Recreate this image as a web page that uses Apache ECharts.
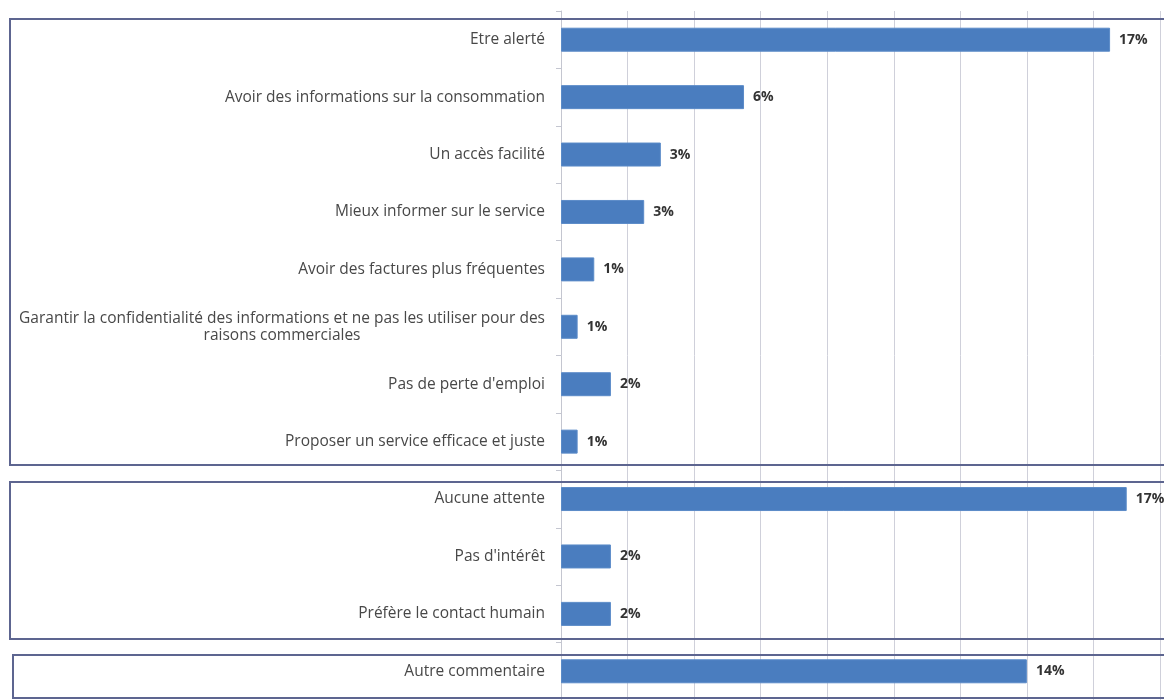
<!DOCTYPE html>
<html>
<head>
<meta charset="utf-8">
<script src="https://cdn.jsdelivr.net/npm/echarts@6/dist/echarts.min.js"></script>
<style>
  html, body { margin: 0; padding: 0; background: #fff; }
  #chart { width: 1164px; height: 700px; }
</style>
</head>
<body>
<div id="chart"></div>
<script>
// catégories (de haut en bas)
const categories = [
  'Etre alerté',
  'Avoir des informations sur la consommation',
  'Un accès facilité',
  'Mieux informer sur le service',
  'Avoir des factures plus fréquentes',
  'Garantir la confidentialité des informations et ne pas les utiliser pour des\nraisons commerciales',
  'Pas de perte d\'emploi',
  'Proposer un service efficace et juste',
  'Aucune attente',
  'Pas d\'intérêt',
  'Préfère le contact humain',
  'Autre commentaire'
];
// pourcentages
const values = [16.5, 5.5, 3.0, 2.5, 1.0, 0.5, 1.5, 0.5, 17.0, 1.5, 1.5, 14.0];
// échelle de l'axe des valeurs
const axisMax = 18;
const axisStep = 2;

const chart = echarts.init(document.getElementById('chart'));

// cadres autour des groupes
function box(x, y, w, h) {
  return {
    type: 'rect',
    silent: true,
    z: 100,
    shape: { x: x, y: y, width: w, height: h },
    style: { fill: 'none', stroke: '#5d6590', lineWidth: 2 }
  };
}

const option = {
  animation: false,
  backgroundColor: '#ffffff',
  grid: {
    left: 561,
    right: 4,
    top: 11,
    bottom: -7,
    containLabel: false
  },
  xAxis: {
    type: 'value',
    min: 0,
    max: axisMax,
    interval: axisStep,
    axisLabel: { show: false },
    axisLine: { show: false },
    axisTick: { show: false },
    splitLine: { show: true, lineStyle: { color: '#cfd0da', width: 1 } }
  },
  yAxis: {
    type: 'category',
    inverse: true,
    data: categories,
    axisLine: { show: true, lineStyle: { color: '#c4c6d0', width: 1 } },
    axisTick: { show: true, length: 5, lineStyle: { color: '#c4c6d0' } },
    axisLabel: {
      margin: 16,
      fontFamily: 'Open Sans',
      fontSize: 15.5,
      color: '#484848',
      lineHeight: 17,
      formatter: function (v) {
        return v.split('\n').map(s => '{c|' + s + '}').join('\n');
      },
      rich: {
        c: { align: 'center', fontFamily: 'Open Sans', fontSize: 15.5, color: '#484848', lineHeight: 17 }
      }
    }
  },
  series: [{
    type: 'bar',
    data: values,
    barWidth: 24,
    itemStyle: { color: '#4a7dbf', borderColor: '#5b8bc8', borderWidth: 1 },
    label: {
      show: true,
      position: 'right',
      distance: 9,
      fontFamily: 'Open Sans',
      fontSize: 14,
      fontWeight: 'bold',
      color: '#333333',
      formatter: function (p) {
        return Math.round(p.value) + '%';
      }
    }
  }],
  graphic: [
    box(10, 19, 1160, 446),
    box(10, 482, 1160, 157),
    box(13, 655, 1160, 43)
  ]
};

chart.setOption(option);
</script>
</body>
</html>
